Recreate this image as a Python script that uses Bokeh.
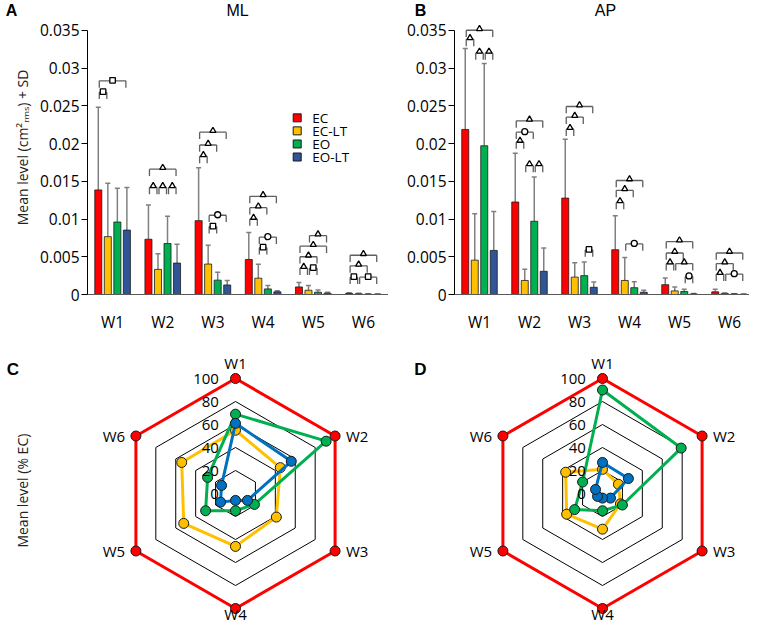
import numpy as np
from bokeh.plotting import figure
from bokeh.layouts import row, column
from bokeh.models import FixedTicker
from bokeh.embed import file_html
from bokeh.resources import INLINE
from bokeh.core.properties import value

FONT = "Open Sans"
BOLD_FONT = "Liberation Sans"

weeks = ["W1", "W2", "W3", "W4", "W5", "W6"]
conditions = ["EC", "EC-LT", "EO", "EO-LT"]
bar_colors = ["#FF0000", "#FFC000", "#00B050", "#2F5597"]
radar_colors = ["#FF0000", "#FFC000", "#00B050", "#0070C0"]
panel_letters = ["A", "B", "C", "D"]
panel_titles = ["ML", "AP"]
bar_ylabel = "Mean level (cm\u00b2\u1d63\u2098\u209b) + SD"
radar_ylabel = "Mean level (% EC)"

# ---- Panel A: ML mean level (cm2 rms) and mean + SD ----
ml_ec = [0.01385, 0.00732, 0.00978, 0.00463, 0.00100, 0.00015]
ml_eclt = [0.00766, 0.00333, 0.00403, 0.00216, 0.00056, 0.00010]
ml_eo = [0.00960, 0.00675, 0.00190, 0.00074, 0.00030, 0.00006]
ml_eolt = [0.00853, 0.00416, 0.00126, 0.00035, 0.00017, 0.00005]
ml_ec_sd = [0.02480, 0.01186, 0.01680, 0.00820, 0.00160, 0.00022]
ml_eclt_sd = [0.01472, 0.00540, 0.00654, 0.00400, 0.00120, 0.00016]
ml_eo_sd = [0.01407, 0.01035, 0.00294, 0.00120, 0.00060, 0.00010]
ml_eolt_sd = [0.01416, 0.00667, 0.00186, 0.00050, 0.00030, 0.00008]

# ---- Panel B: AP ----
ap_ec = [0.02186, 0.01225, 0.01277, 0.00593, 0.00130, 0.00035]
ap_eclt = [0.00455, 0.00186, 0.00230, 0.00186, 0.00048, 0.00015]
ap_eo = [0.01970, 0.00970, 0.00250, 0.00090, 0.00040, 0.00008]
ap_eolt = [0.00584, 0.00307, 0.00095, 0.00030, 0.00008, 0.00004]
ap_ec_sd = [0.03260, 0.01870, 0.02056, 0.01043, 0.00220, 0.00070]
ap_eclt_sd = [0.01070, 0.00333, 0.00420, 0.00490, 0.00100, 0.00020]
ap_eo_sd = [0.03060, 0.01558, 0.00430, 0.00170, 0.00070, 0.00010]
ap_eolt_sd = [0.01100, 0.00615, 0.00165, 0.00056, 0.00012, 0.00006]

# significance brackets: (week, condition i, condition j, level, symbol)
ml_brackets = [
    (1, 0, 1, 0.0268, "s"), (1, 0, 3, 0.0283, "s"),
    (2, 0, 1, 0.0142, "t"), (2, 1, 2, 0.0142, "t"), (2, 2, 3, 0.0142, "t"), (2, 0, 3, 0.0166, "t"),
    (3, 0, 1, 0.0183, "t"), (3, 0, 2, 0.0198, "t"), (3, 0, 3, 0.0215, "t"), (3, 1, 2, 0.0090, "s"), (3, 1, 3, 0.0105, "c"),
    (4, 0, 1, 0.0100, "t"), (4, 0, 2, 0.0115, "t"), (4, 0, 3, 0.0130, "t"), (4, 1, 2, 0.0062, "s"), (4, 1, 3, 0.0076, "c"),
    (5, 0, 1, 0.0035, "t"), (5, 1, 2, 0.0035, "s"), (5, 0, 2, 0.0050, "t"), (5, 0, 3, 0.0064, "t"), (5, 1, 3, 0.0078, "t"),
    (6, 0, 1, 0.0023, "s"), (6, 1, 3, 0.0023, "s"), (6, 0, 2, 0.0038, "t"), (6, 0, 3, 0.0052, "t"),
]
ap_brackets = [
    (1, 0, 1, 0.0338, "t"), (1, 0, 3, 0.0350, "t"), (1, 1, 2, 0.0320, "t"), (1, 2, 3, 0.0320, "t"),
    (2, 0, 1, 0.0202, "t"), (2, 0, 2, 0.0215, "c"), (2, 0, 3, 0.0230, "t"), (2, 1, 2, 0.0171, "t"), (2, 2, 3, 0.0171, "t"),
    (3, 0, 1, 0.0219, "t"), (3, 0, 2, 0.0235, "t"), (3, 0, 3, 0.0249, "t"), (3, 2, 3, 0.0059, "s"),
    (4, 0, 1, 0.0122, "t"), (4, 0, 2, 0.0138, "t"), (4, 0, 3, 0.0151, "t"), (4, 1, 3, 0.0067, "c"),
    (5, 0, 1, 0.0041, "t"), (5, 1, 3, 0.0041, "t"), (5, 0, 2, 0.0055, "t"), (5, 0, 3, 0.0070, "t"), (5, 2, 3, 0.0024, "c"),
    (6, 0, 1, 0.0027, "t"), (6, 1, 3, 0.0027, "c"), (6, 0, 2, 0.0041, "t"), (6, 0, 3, 0.0055, "t"),
]

# ---- Radar panels C (ML) and D (AP): mean level, % of EC ----
ml_pct_ec = [100, 100, 100, 100, 100, 100]
ml_pct_eclt = [55, 45, 41, 46, 52, 54]
ml_pct_eo = [69, 91, 19, 15, 30, 28]
ml_pct_eolt = [61, 56, 12, 6, 15, 14]
ap_pct_ec = [100, 100, 100, 100, 100, 100]
ap_pct_eclt = [21, 16, 18, 31, 36, 37]
ap_pct_eo = [90, 79, 20, 15, 28, 20]
ap_pct_eolt = [27, 26, 8, 4, 5, 7]
radar_rings = [20, 40, 60, 80, 100]
radar_ticks = [0, 20, 40, 60, 80, 100]

y_ticks = [0, 0.005, 0.01, 0.015, 0.02, 0.025, 0.03, 0.035]
y_tick_labels = ["0", "0.005", "0.01", "0.015", "0.02", "0.025", "0.03", "0.035"]

offsets = [-0.285, -0.095, 0.095, 0.285]
BAR_W = 0.14
TOTAL_W = 749
HEAD_H = 19
STRIP_W = 32
FRAME_H = 300 - HEAD_H
TOP_H = 335 - HEAD_H
PXU = 270 / 0.035          # pixels per data unit (y)
Y_END = FRAME_H / PXU


def blank(width, height, x_range, y_range):
    p = figure(width=width, height=height, x_range=x_range, y_range=y_range,
               output_backend="svg", toolbar_location=None, tools="",
               x_axis_type=None, y_axis_type=None, min_border=0)
    p.grid.visible = False
    p.outline_line_color = None
    return p


# ---- header strip with panel letters and titles (pixel coordinates) ----
head = blank(TOTAL_W, HEAD_H, (0, TOTAL_W), (HEAD_H, 0))
head.text(x=[11, 420], y=[9.5, 9.5], text=panel_letters[:2], text_font=value(BOLD_FONT),
          text_font_style="bold", text_font_size="16px", text_align="center",
          text_baseline="middle", text_color="black")
head.text(x=[237, 605], y=[9.5, 9.5], text=panel_titles, text_font=value(BOLD_FONT),
          text_font_size="16px", text_align="center", text_baseline="middle", text_color="black")

# ---- left strip with the bar-chart y-axis title ----
strip = blank(STRIP_W, TOP_H, (0, STRIP_W), (TOP_H, 0))
strip.text(x=[22], y=[166 - HEAD_H], text=[bar_ylabel], angle=np.pi / 2,
           text_font=value(FONT), text_font_size="14px", text_align="center",
           text_baseline="middle", text_color="#222222")


def bar_panel(width, border_left, x_end, means, sds, brackets, legend=False):
    p = figure(width=width, height=TOP_H, x_range=(0.5, x_end), y_range=(0, Y_END),
               output_backend="svg", toolbar_location=None, tools="",
               min_border_left=border_left, min_border_right=0,
               min_border_top=0, min_border_bottom=TOP_H - FRAME_H)
    p.grid.visible = False
    p.outline_line_color = None
    xs = np.arange(1, 7)
    # error bars (mean + SD)
    for k in range(4):
        xk = xs + offsets[k]
        p.segment(x0=xk, y0=means[k], x1=xk, y1=sds[k], line_color="#808080", line_width=1.5)
        p.segment(x0=xk - 0.05, y0=sds[k], x1=xk + 0.05, y1=sds[k], line_color="#808080", line_width=1.5)
    for k in range(4):
        p.vbar(x=xs + offsets[k], top=means[k], width=BAR_W, bottom=0,
               fill_color=bar_colors[k], line_color="#1a1a1a", line_width=0.8)
    # significance brackets
    hx0, hx1, hy = [], [], []
    tx, ty0, ty1 = [], [], []
    sym = {"t": ([], []), "s": ([], []), "c": ([], [])}
    tick = 7 / PXU
    for w, i, j, h, s in brackets:
        xa = w + offsets[i] + 0.02
        xb = w + offsets[j] - 0.02
        hx0.append(xa); hx1.append(xb); hy.append(h)
        tx += [xa, xb]; ty0 += [h, h]; ty1 += [h - tick, h - tick]
        sym[s][0].append((xa + xb) / 2)
        sym[s][1].append(h + (1.5 if s == "t" else 0.5) / PXU)
    p.segment(x0=hx0, y0=hy, x1=hx1, y1=hy, line_color="#5f5f5f", line_width=1.3)
    p.segment(x0=tx, y0=ty0, x1=tx, y1=ty1, line_color="#5f5f5f", line_width=1.3)
    p.scatter(x=sym["t"][0], y=sym["t"][1], marker="triangle", size=6,
              fill_color="white", line_color="black", line_width=1.3)
    p.scatter(x=sym["s"][0], y=sym["s"][1], marker="square", size=5.5,
              fill_color="white", line_color="black", line_width=1.3)
    p.scatter(x=sym["c"][0], y=sym["c"][1], marker="circle", size=6,
              fill_color="white", line_color="black", line_width=1.3)

    # axes
    p.yaxis.ticker = FixedTicker(ticks=y_ticks)
    p.yaxis.major_label_overrides = dict(zip(y_ticks, y_tick_labels))
    p.yaxis.bounds = (0, 0.035)
    p.yaxis.minor_tick_line_color = None
    p.yaxis.major_tick_in = 0
    p.yaxis.major_tick_out = 6
    p.yaxis.major_label_standoff = 2
    p.yaxis.major_label_text_font = FONT
    p.yaxis.major_label_text_font_size = "15.5px"
    p.yaxis.major_label_text_color = "black"
    p.yaxis.axis_line_color = "black"
    p.yaxis.major_tick_line_color = "black"
    p.xaxis.ticker = FixedTicker(ticks=list(range(1, 7)))
    p.xaxis.major_label_overrides = {i + 1: w for i, w in enumerate(weeks)}
    p.xaxis.major_tick_in = 0
    p.xaxis.major_tick_out = 0
    p.xaxis.minor_tick_line_color = None
    p.xaxis.major_label_standoff = 16
    p.xaxis.major_label_text_font = FONT
    p.xaxis.major_label_text_font_size = "15.5px"
    p.xaxis.major_label_text_color = "black"
    p.xaxis.axis_line_color = "#595959"
    p.xaxis.axis_line_width = 1.2

    if legend:
        lx_sw = 0.5 + (296 - 87) / 50
        lx_tx = 0.5 + (311 - 87) / 50
        ly = [(300 - yy) / PXU for yy in [119.5, 132.8, 146.2, 159.5]]
        p.scatter(x=[lx_sw] * 4, y=ly, marker="square", size=8, fill_color=bar_colors,
                  line_color="#1a1a1a", line_width=1)
        p.text(x=[lx_tx] * 4, y=ly, text=conditions, text_font=value(FONT),
               text_font_size="13.5px", text_align="left", text_baseline="middle",
               text_color="black")
    return p


pA = bar_panel(388 - STRIP_W, 87 - STRIP_W, 6.5,
               [ml_ec, ml_eclt, ml_eo, ml_eolt],
               [ml_ec_sd, ml_eclt_sd, ml_eo_sd, ml_eolt_sd],
               ml_brackets, legend=True)
pB = bar_panel(TOTAL_W - 388, 66, 6.4,
               [ap_ec, ap_eclt, ap_eo, ap_eolt],
               [ap_ec_sd, ap_eclt_sd, ap_eo_sd, ap_eolt_sd],
               ap_brackets)

PX = 1.15
BOT_H = 624 - HEAD_H - TOP_H
CY = 158
angles = np.deg2rad([90, 30, -30, -90, -150, 150])


def radar_panel(width, cx, series, letter, letter_x, ylabel=None):
    p = blank(width, BOT_H, (-cx / PX, (width - cx) / PX), (-(BOT_H - CY) / PX, CY / PX))
    ca, sa = np.cos(angles), np.sin(angles)
    ring_xs = [list(np.append(r * ca, r * ca[0])) for r in radar_rings]
    ring_ys = [list(np.append(r * sa, r * sa[0])) for r in radar_rings]
    p.multi_line(xs=ring_xs, ys=ring_ys, line_color="black", line_width=1)
    for k, vals in enumerate(series):
        v = np.array(vals, dtype=float)
        x = v * ca
        y = v * sa
        p.line(x=np.append(x, x[0]), y=np.append(y, y[0]), line_color=radar_colors[k], line_width=3)
        p.scatter(x=x, y=y, marker="circle", size=10, fill_color=radar_colors[k],
                  line_color="#1a1a1a", line_width=1)
    p.text(x=[-14.4] * len(radar_ticks), y=radar_ticks, text=[str(t) for t in radar_ticks],
           text_font=value(FONT), text_font_size="15px", text_align="right",
           text_baseline="middle", text_color="black")
    lx = [0, 96, 96, 0, -96, -96]
    ly = [113.5, 50, -50, -105, -50, 50]
    al = ["center", "left", "left", "center", "right", "right"]
    for i, w in enumerate(weeks):
        p.text(x=[lx[i]], y=[ly[i]], text=[w], text_font=value(FONT), text_font_size="15px",
               text_align=al[i], text_baseline="middle", text_color="black")
    p.text(x=[letter_x], y=[108], text=[letter], text_font=value(BOLD_FONT),
           text_font_style="bold", text_font_size="17px", text_align="center",
           text_baseline="middle")
    if ylabel:
        p.text(x=[-185], y=[2.5], text=[ylabel], angle=np.pi / 2, text_font=value(FONT),
               text_font_size="14px", text_align="center", text_baseline="middle",
               text_color="#222222")
    return p


pC = radar_panel(388, 235, [ml_pct_ec, ml_pct_eclt, ml_pct_eo, ml_pct_eolt], panel_letters[2],
                 (12.5 - 235) / PX, ylabel=radar_ylabel)
pD = radar_panel(TOTAL_W - 388, 214, [ap_pct_ec, ap_pct_eclt, ap_pct_eo, ap_pct_eolt],
                 panel_letters[3], (420 - 602) / PX)

layout = column(head, row(strip, pA, pB), row(pC, pD))
open("out.html", "w").write(file_html(layout, INLINE))
